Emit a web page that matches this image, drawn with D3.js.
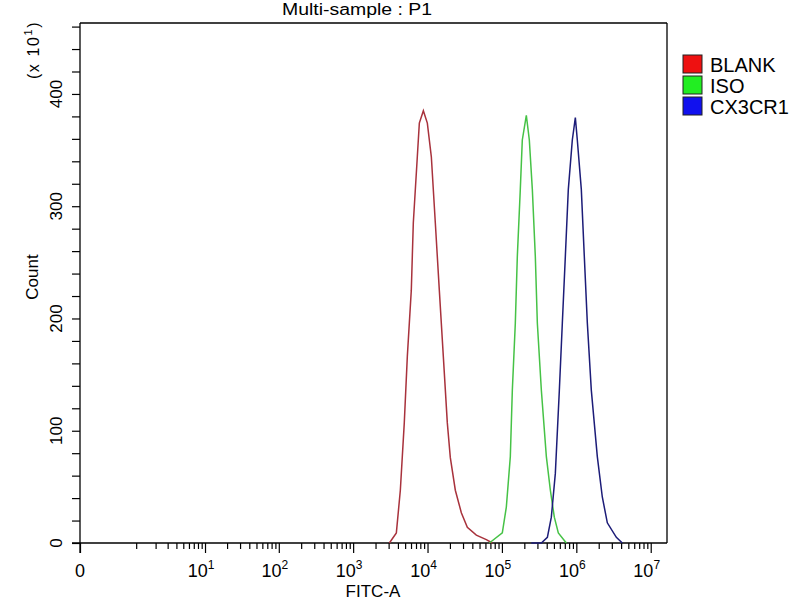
<!DOCTYPE html>
<html>
<head>
<meta charset="utf-8">
<script src="https://cdn.jsdelivr.net/npm/d3@7"></script>
<style>
  html, body { margin: 0; padding: 0; background: #fff; }
  svg { display: block; font-family: "Liberation Sans", Arial, sans-serif; }
</style>
</head>
<body>
<svg id="chart" width="800" height="600"></svg>
<script>
// ---- data ----
const seriesNames = ["BLANK", "ISO", "CX3CR1"];
const seriesColors = ["#a8323c", "#46c246", "#1c1c78"];
const legendColors = ["#ee1111", "#22ee22", "#1111ee"];

// FITC-A intensity values and counts (x10^1)
const blankX = [3070, 3810, 4310, 4870, 5350, 6050, 6440, 7290, 7760, 8790, 9940, 11250, 12730, 14410, 16310, 18450, 20250, 23640, 28460, 34270, 45280, 61700, 74300];
const blankCount = [0, 9, 47, 107, 166, 225, 285, 344, 374, 385, 374, 344, 285, 225, 166, 107, 76, 47, 27, 14, 7, 3, 0];

const isoX = [67800, 101200, 114600, 129700, 138000, 151400, 161000, 176600, 187900, 212800, 233500, 256300, 281200, 299200, 338800, 395500, 447700, 506100, 572900, 734000];
const isoCount = [0, 9, 32, 77, 136, 196, 255, 315, 359, 381, 359, 315, 255, 196, 136, 77, 47, 23, 9, 0];

const cxX = [248300, 338800, 408200, 461400, 522300, 591300, 648600, 711500, 780500, 883300, 970000, 1031000, 1167000, 1281000, 1406000, 1591000, 1915000, 2235000, 2610000, 3450000, 4150000];
const cxCount = [0, 0, 5, 23, 62, 136, 196, 255, 315, 359, 379, 359, 315, 255, 196, 136, 77, 41, 18, 5, 0];

const yTickValues = [0, 100, 200, 300, 400];
const yMinorStep = 20;
const xDecades = [1, 2, 3, 4, 5, 6, 7];

// ---- layout ----
const L = 80, R = 667, T = 23, B = 543;
const svg = d3.select("#chart");

const x = d3.scaleSymlog().constant(0.2132).domain([0, 1.655e7]).range([L, R]);
const y = d3.scaleLinear().domain([0, 463.2]).range([B, T]);

// frame top & right
svg.append("line").attr("x1", L).attr("x2", R).attr("y1", T).attr("y2", T)
  .attr("stroke", "#000").attr("stroke-width", 1.3);
svg.append("line").attr("x1", R).attr("x2", R).attr("y1", T).attr("y2", B)
  .attr("stroke", "#000").attr("stroke-width", 1.3);

// y axis
const yAxis = d3.axisLeft(y)
  .tickValues(d3.range(0, 461, yMinorStep))
  .tickSize(8)
  .tickFormat("");
const gy = svg.append("g").attr("transform", `translate(${L},0)`).call(yAxis);
gy.select(".domain").remove();
gy.selectAll(".tick line").attr("stroke", "#000").attr("stroke-width", 1.2);
svg.append("line").attr("x1", L).attr("x2", L).attr("y1", T).attr("y2", B + 10)
  .attr("stroke", "#000").attr("stroke-width", 1.3);

yTickValues.forEach(v => {
  svg.append("text")
    .attr("transform", `translate(62,${y(v)}) rotate(-90)`)
    .attr("text-anchor", "middle")
    .attr("font-size", 17)
    .attr("fill", "#000")
    .text(v);
});

// x axis
svg.append("line").attr("x1", L - 8).attr("x2", R).attr("y1", B).attr("y2", B)
  .attr("stroke", "#000").attr("stroke-width", 1.3);

const majorVals = [0].concat(xDecades.map(d => Math.pow(10, d)));
const minorVals = [];
for (let k = 1; k <= 9; k++) minorVals.push(k);
for (let d = 1; d <= 7; d++) {
  for (let k = 2; k <= 9; k++) {
    const v = k * Math.pow(10, d);
    if (v <= x.domain()[1]) minorVals.push(v);
  }
}
const xMajorAxis = d3.axisBottom(x).tickValues(majorVals).tickSize(10).tickFormat("");
const gxMaj = svg.append("g").attr("transform", `translate(0,${B})`).call(xMajorAxis);
gxMaj.select(".domain").remove();
gxMaj.selectAll(".tick line").attr("stroke", "#000").attr("stroke-width", 1.2);

const xMinorAxis = d3.axisBottom(x).tickValues(minorVals).tickSize(6).tickFormat("");
const gxMin = svg.append("g").attr("transform", `translate(0,${B})`).call(xMinorAxis);
gxMin.select(".domain").remove();
gxMin.selectAll(".tick line").attr("stroke", "#000").attr("stroke-width", 1.2);

// x tick labels
svg.append("text").attr("x", x(0)).attr("y", 577).attr("text-anchor", "middle")
  .attr("font-size", 18).attr("fill", "#000").text("0");
xDecades.forEach(d => {
  const t = svg.append("text").attr("x", x(Math.pow(10, d)) - 4).attr("y", 577)
    .attr("text-anchor", "middle").attr("font-size", 18).attr("fill", "#000");
  t.append("tspan").text("10");
  t.append("tspan").attr("dy", -8).attr("font-size", 12).text(d);
});

// axis titles
svg.append("text").attr("x", 373).attr("y", 597).attr("text-anchor", "middle")
  .attr("font-size", 17).attr("fill", "#000").text("FITC-A");
svg.append("text").attr("transform", "translate(38,277) rotate(-90)")
  .attr("text-anchor", "middle").attr("font-size", 17).attr("fill", "#000").text("Count");
const ex = svg.append("text").attr("transform", "translate(39,50) rotate(-90)")
  .attr("text-anchor", "middle").attr("font-size", 16).attr("letter-spacing", 1.6)
  .attr("fill", "#000");
ex.append("tspan").text("(x 10");
ex.append("tspan").attr("dy", -7).attr("font-size", 11).text("1");
ex.append("tspan").attr("dy", 7).text(")");

// title
svg.append("text").attr("x", 357).attr("y", 15).attr("text-anchor", "middle")
  .attr("font-size", 16).attr("fill", "#000")
  .attr("textLength", 150).attr("lengthAdjust", "spacingAndGlyphs")
  .text("Multi-sample : P1");

// curves
const line = d3.line().x(d => x(d[0])).y(d => y(d[1]));
const series = [
  d3.zip(blankX, blankCount),
  d3.zip(isoX, isoCount),
  d3.zip(cxX, cxCount)
];
series.forEach((s, i) => {
  svg.append("path").datum(s).attr("d", line)
    .attr("fill", "none").attr("stroke", seriesColors[i]).attr("stroke-width", 1.5);
});

// legend
seriesNames.forEach((n, i) => {
  const yy = 55 + i * 21;
  svg.append("rect").attr("x", 683).attr("y", yy).attr("width", 19).attr("height", 18)
    .attr("fill", legendColors[i]).attr("stroke", "#222").attr("stroke-width", 1);
  svg.append("text").attr("x", 710).attr("y", yy + 17).attr("font-size", 20)
    .attr("fill", "#000").text(n);
});
</script>
</body>
</html>
